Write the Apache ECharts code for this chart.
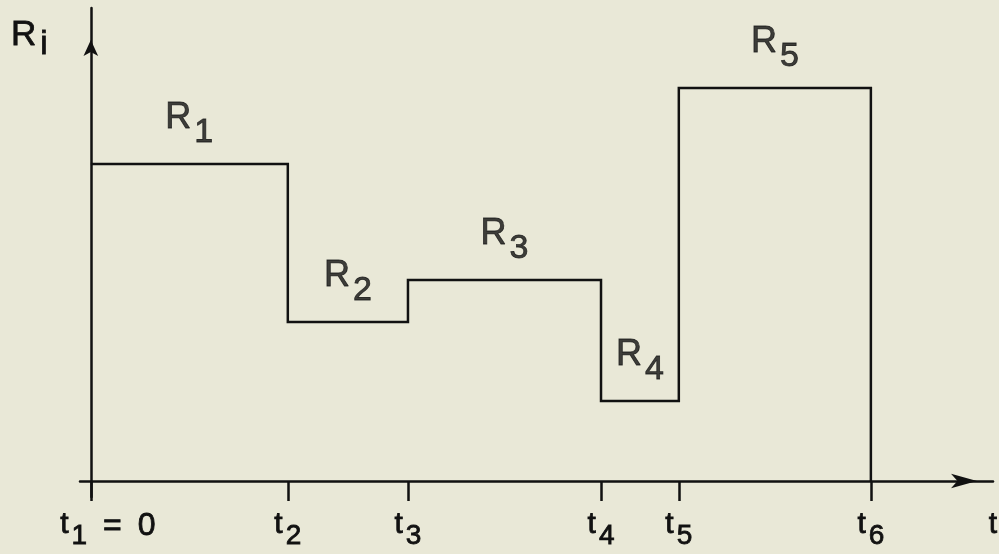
<!DOCTYPE html>
<html>
<head>
<meta charset="utf-8">
<script src="https://cdn.jsdelivr.net/npm/echarts@6/dist/echarts.min.js"></script>
<style>
  html, body { margin: 0; padding: 0; background: #e9e8d7; }
  #chart { width: 999px; height: 554px; }
</style>
</head>
<body>
<div id="chart"></div>
<script>
// breakpoints t1..t6 (t1 = 0) and the level of each interval
const tVals = [0, 2, 3.22, 5.18, 5.97, 7.92];
const tSubs = ['1', '2', '3', '4', '5', '6'];
const rVals = [6.34, 3.18, 4.02, 1.6, 7.86];
const rSubs = ['1', '2', '3', '4', '5'];

const xMin = -0.11, xMax = 9.16;
const yMin = -0.32, yMax = 9.46;
const ink = '#111111';
const font = 'Liberation Sans';

// shared text look: plain weight, slightly thickened like pen lettering
function txt(size, extra) {
  return Object.assign({
    fontFamily: font,
    fontSize: size,
    fontWeight: 'normal',
    color: ink,
    textBorderColor: ink,
    textBorderWidth: 0.8,
    verticalAlign: 'top'
  }, extra || {});
}

// step outline
const stepData = [];
rVals.forEach((r, i) => {
  stepData.push([tVals[i], r]);
  stepData.push([tVals[i + 1], r]);
});
stepData.push([tVals[tVals.length - 1], 0]);

// one label per interval, at its middle
const labelData = rVals.map((r, i) => ({
  value: [(tVals[i] + tVals[i + 1]) / 2, r],
  sub: rSubs[i]
}));

const chart = echarts.init(document.getElementById('chart'));

const option = {
  backgroundColor: '#e9e8d7',
  animation: false,
  title: {
    text: '{r|R}{s|i}',
    left: 6,
    top: 13,
    textStyle: {
      rich: {
        r: txt(35),
        s: txt(33, { padding: [10, 0, 0, 4] })
      }
    }
  },
  grid: { left: 80, right: 6, top: 8, bottom: 57, outerBoundsMode: 'none' },
  xAxis: {
    type: 'value',
    min: xMin,
    max: xMax,
    splitLine: { show: false },
    axisLine: {
      onZero: true,
      lineStyle: { color: ink, width: 2.5 },
      symbol: ['none', 'arrow'],
      symbolSize: [11, 26],
      symbolOffset: [0, -16]
    },
    axisTick: {
      show: true,
      customValues: tVals,
      length: 20,
      lineStyle: { color: ink, width: 2.5 }
    },
    axisLabel: {
      customValues: tVals.concat([xMax]),
      margin: 13,
      formatter: function (value) {
        const i = tVals.indexOf(value);
        if (i < 0) return '{t|t}';
        if (i === 0) return '{first|t}{s|' + tSubs[i] + '}{eq|=}{eq|0}';
        return '{t|t}{s|' + tSubs[i] + '}';
      },
      rich: {
        first: txt(30, { padding: [0, 0, 0, 34] }),
        t: txt(30),
        s: txt(28, { padding: [12, 0, 0, 3] }),
        eq: txt(32, { padding: [0, 0, 0, 16] })
      }
    }
  },
  yAxis: {
    type: 'value',
    min: yMin,
    max: yMax,
    splitLine: { show: false },
    axisTick: { show: false },
    axisLabel: { show: false },
    axisLine: {
      show: true,
      onZero: true,
      lineStyle: { color: ink, width: 2.5 },
      symbol: ['none', 'arrow'],
      symbolSize: [11, 16],
      symbolOffset: [0, -32]
    }
  },
  series: [
    {
      name: 'R',
      type: 'line',
      data: stepData,
      showSymbol: false,
      lineStyle: { color: ink, width: 2.5, join: 'miter' },
      z: 3
    },
    {
      name: 'labels',
      type: 'scatter',
      data: labelData,
      symbolSize: 0,
      label: {
        show: true,
        position: 'top',
        distance: 14,
        formatter: function (p) {
          return '{r|R}{s|' + p.data.sub + '}';
        },
        rich: {
          r: txt(36),
          s: txt(34, { padding: [16, 0, 0, 3] })
        }
      }
    }
  ]
};

chart.setOption(option);
</script>
</body>
</html>
